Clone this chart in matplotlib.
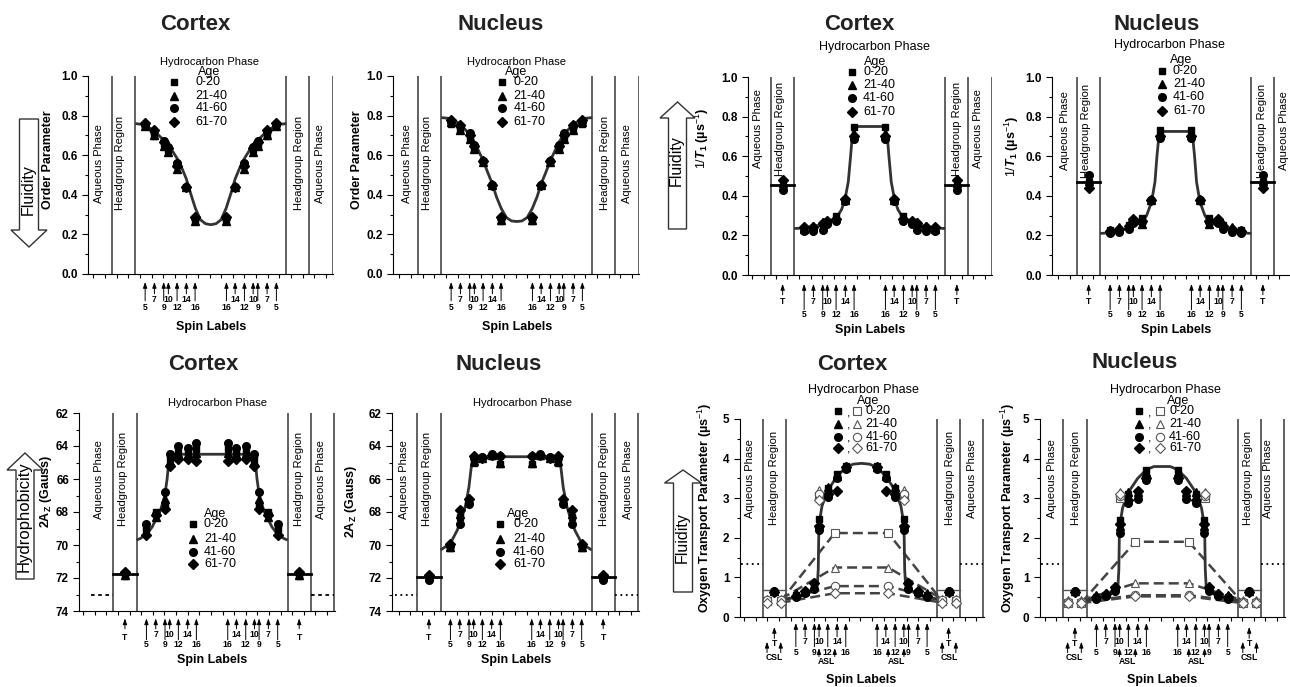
import numpy as np
import matplotlib
matplotlib.use('Agg')
import matplotlib.pyplot as plt
from matplotlib.patches import Polygon

plt.rcParams['font.family'] = ['Liberation Sans', 'DejaVu Sans']
plt.rcParams['mathtext.fontset'] = 'custom'
plt.rcParams['mathtext.rm'] = 'Liberation Sans'
plt.rcParams['mathtext.it'] = 'Liberation Sans:italic:bold'
plt.rcParams['mathtext.bf'] = 'Liberation Sans:bold'

# ---------------- data ----------------
ages = ['0-20', '21-40', '41-60', '61-70']
spin_names = ['5', '7', '9', '10', '12', '14', '16']
spin_x = np.array([4.85, 5.65, 6.45, 6.85, 7.6, 8.4, 9.15])  # left leaflet; right side mirrored about 10.5
high_labels = ['7', '10', '14']
tempo_x = 3.0
csl_x = [2.37, 3.55]
asl_x = [6.84, 8.2]

# order parameter, one row per age group, columns follow spin_names
order_cortex = [[0.745, 0.695, 0.655, 0.625, 0.555, 0.44, 0.275],
                [0.75, 0.70, 0.645, 0.615, 0.53, 0.44, 0.27],
                [0.755, 0.72, 0.67, 0.64, 0.56, 0.44, 0.285],
                [0.765, 0.725, 0.665, 0.635, 0.545, 0.44, 0.29]]
order_nucleus = [[0.76, 0.725, 0.685, 0.635, 0.57, 0.45, 0.27],
                 [0.77, 0.725, 0.68, 0.63, 0.565, 0.45, 0.275],
                 [0.77, 0.75, 0.71, 0.65, 0.57, 0.45, 0.285],
                 [0.78, 0.755, 0.70, 0.645, 0.57, 0.45, 0.29]]
order_fit_x = [4.0, 4.86, 5.67, 6.44, 6.87, 7.59, 8.02, 8.40, 8.75, 9.17, 9.61, 10.05, 10.5]
order_cortex_fit = [0.76, 0.753, 0.72, 0.677, 0.652, 0.585, 0.534, 0.48, 0.41, 0.333, 0.274, 0.254, 0.249]
order_nucleus_fit = [0.79, 0.785, 0.755, 0.705, 0.665, 0.575, 0.51, 0.455, 0.39, 0.33, 0.285, 0.268, 0.265]

# spin-lattice relaxation rate 1/T1
t1_cortex = [[0.235, 0.235, 0.26, 0.27, 0.30, 0.38, 0.745],
             [0.23, 0.25, 0.27, 0.275, 0.29, 0.38, 0.71],
             [0.22, 0.22, 0.225, 0.26, 0.275, 0.375, 0.685],
             [0.24, 0.24, 0.265, 0.275, 0.285, 0.385, 0.70]]
t1_cortex_tempo = [0.45, 0.465, 0.43, 0.48]
t1_cortex_head = 0.453
t1_cortex_fit_x = [4.0, 4.86, 5.64, 6.44, 6.93, 7.64, 8.07, 8.36, 8.65, 8.85, 8.99, 9.14, 9.37, 10.5]
t1_cortex_fit = [0.235, 0.237, 0.245, 0.255, 0.265, 0.29, 0.33, 0.38, 0.47, 0.6, 0.7, 0.74, 0.75, 0.75]
t1_nucleus = [[0.225, 0.225, 0.255, 0.27, 0.29, 0.38, 0.73],
              [0.225, 0.24, 0.26, 0.28, 0.26, 0.38, 0.71],
              [0.21, 0.215, 0.23, 0.265, 0.27, 0.38, 0.69],
              [0.22, 0.23, 0.25, 0.285, 0.275, 0.38, 0.70]]
t1_nucleus_tempo = [0.47, 0.475, 0.505, 0.44]
t1_nucleus_head = 0.47
t1_nucleus_fit_x = [4.0, 4.87, 5.62, 6.43, 6.83, 7.61, 7.99, 8.42, 8.71, 8.88, 9.03, 9.2, 9.43, 10.5]
t1_nucleus_fit = [0.21, 0.213, 0.222, 0.237, 0.245, 0.27, 0.3, 0.37, 0.47, 0.6, 0.69, 0.72, 0.725, 0.725]

# hydrophobicity 2Az
az_cortex = [[69.0, 68.0, 67.5, 64.8, 64.3, 64.45, 64.2],
             [69.2, 68.3, 67.2, 64.9, 64.4, 64.5, 64.4],
             [68.7, 68.1, 66.8, 64.5, 64.0, 64.1, 63.8],
             [69.4, 68.2, 67.8, 65.2, 64.8, 64.8, 64.9]]
az_cortex_tempo = [71.9, 71.8, 71.7, 71.65]
az_cortex_head = 71.75
az_cortex_fit_x = [4.0, 4.34, 4.92, 5.35, 5.63, 6.06, 6.43, 6.63, 6.78, 6.92, 7.21, 10.5]
az_cortex_fit = [69.7, 69.6, 69.3, 68.9, 68.5, 67.9, 67.0, 66.0, 64.9, 64.55, 64.5, 64.5]
az_nucleus = [[70.2, 68.3, 67.4, 65.0, 64.75, 64.6, 65.1],
              [70.1, 68.1, 67.3, 64.9, 64.7, 64.55, 65.0],
              [70.05, 68.7, 67.5, 64.7, 64.65, 64.5, 64.6],
              [69.95, 67.9, 67.2, 64.6, 64.7, 64.55, 64.6]]
az_nucleus_tempo = [72.0, 71.9, 72.1, 71.8]
az_nucleus_head = 71.95
az_nucleus_fit_x = [4.0, 4.43, 4.92, 5.44, 5.81, 6.15, 6.44, 6.64, 6.78, 7.02, 10.5]
az_nucleus_fit = [70.3, 70.1, 69.8, 69.1, 68.4, 67.6, 66.5, 65.3, 64.8, 64.65, 64.65]
az_water = 73.0

# oxygen transport parameter
ox_cortex = [[0.55, 0.62, 0.75, 2.48, 3.25, 3.6, 3.82],
             [0.6, 0.65, 0.8, 2.35, 3.28, 3.55, 3.78],
             [0.5, 0.6, 0.7, 2.2, 3.03, 3.5, 3.75],
             [0.52, 0.65, 0.85, 2.3, 3.1, 3.18, 3.8]]
ox_cortex_tempo = [0.64, 0.66, 0.65, 0.63]
ox_cortex_csl = [0.40, 0.45, 0.42, 0.36]
ox_cortex_asl1 = [3.05, 3.2, 3.1, 2.95]
ox_cortex_asl2 = [2.12, 1.25, 0.78, 0.6]
ox_fit_x = [4.0, 4.9, 5.65, 6.45, 6.7, 6.78, 6.82, 6.88, 7.1, 7.6, 8.4, 9.15, 9.8, 10.5]
ox_cortex_fit = [0.45, 0.5, 0.58, 0.7, 0.8, 1.2, 2.0, 2.4, 2.8, 3.2, 3.55, 3.78, 3.86, 3.88]
ox_nucleus = [[0.5, 0.55, 0.7, 2.45, 3.1, 3.15, 3.7],
              [0.55, 0.6, 0.78, 2.3, 3.15, 3.15, 3.65],
              [0.45, 0.52, 0.65, 2.12, 2.88, 2.97, 3.45],
              [0.5, 0.58, 0.75, 2.35, 2.95, 3.17, 3.5]]
ox_nucleus_tempo = [0.64, 0.66, 0.65, 0.63]
ox_nucleus_csl = [0.36, 0.42, 0.38, 0.35]
ox_nucleus_asl1 = [3.0, 3.15, 3.05, 3.1]
ox_nucleus_asl2 = [1.9, 0.85, 0.55, 0.52]
ox_nucleus_fit = [0.42, 0.47, 0.55, 0.68, 0.76, 1.2, 2.0, 2.35, 2.75, 3.15, 3.5, 3.72, 3.8, 3.8]
ox_head = 0.67
ox_water = 1.35

# ---------------- drawing ----------------
W, H = 1290, 687
U = 11.615  # pixels per x unit
markers = ['s', '^', 'o', 'D']
msize = {'s': 5, '^': 5.5, 'o': 5.5, 'D': 4.8}
fig = plt.figure(figsize=(W / 100, H / 100), dpi=100)


def new_axes(left, zero, top, bottom, right=None):
    if right is None:
        right = min(zero + 21 * U + 0.5, W)
    ax = fig.add_axes([left / W, 1 - bottom / H, (right - left) / W, (bottom - top) / H])
    x0, x1 = (left - zero) / U, (right - zero) / U
    ax.set_xlim(x0, x1)
    ax.spines['top'].set_visible(False)
    ax.spines['right'].set_visible(False)
    for xb in [2, 4, 17, 19, 21]:
        ax.axvline(xb, color='#555555', lw=1.3, zorder=1)
    ticks = np.arange(0.4 if x0 > -0.6 else -0.6, x1, 1.0)
    ax.set_xticks(ticks)
    ax.tick_params(axis='x', length=3, width=0.8, labelbottom=False)
    ax.tick_params(axis='y', which='major', length=4, width=0.8)
    ax.tick_params(axis='y', which='minor', length=2.5, width=0.8)
    ax.width_px = right - left
    return ax


def set_y(ax, lo, hi, step, minor, fmt, invert=False):
    ticks = np.arange(lo, hi + step / 2, step)
    ax.set_yticks(ticks, [fmt.format(t) for t in ticks], fontsize=8.5, fontweight='bold')
    ax.set_yticks(np.arange(lo, hi + minor / 2, minor), minor=True)
    ax.set_ylim((hi, lo) if invert else (lo, hi))


def ylabel(ax, text, off, yc):
    # off = distance in pixels from the axis to the centre of the label
    ax.set_ylabel(text, fontsize=9, fontweight='bold')
    ax.yaxis.set_label_coords(-(off - 6) / ax.width_px, yc)


def regions(ax, xs, y):
    names = ['Aqueous Phase', 'Headgroup Region', 'Headgroup Region', 'Aqueous Phase']
    for x, t in zip(xs, names):
        ax.text(x, y, t, transform=ax.get_xaxis_transform(), rotation=90,
                ha='center', va='center', fontsize=8)


def arrow(ax, x, y0, y1):
    tr = ax.get_xaxis_transform()
    ax.annotate('', xy=(x, y1), xytext=(x, y0), xycoords=tr, textcoords=tr,
                annotation_clip=False,
                arrowprops=dict(arrowstyle='-|>,head_length=0.35,head_width=0.12',
                                color='black', lw=0.7, shrinkA=0, shrinkB=0))


def label(ax, x, y, t, fs=6.2):
    ax.text(x, y, t, transform=ax.get_xaxis_transform(), ha='center', va='center',
            fontsize=fs, fontweight='bold')


def spin_arrows(ax, tip, hi_base, lo_base, hi_lab, lo_lab, xlab):
    for x, name in zip(spin_x, spin_names):
        hi = name in high_labels
        for xx in (x, 21 - x):
            arrow(ax, xx, hi_base if hi else lo_base, tip)
            label(ax, xx, hi_lab if hi else lo_lab, name)
    ax.text(10.5, xlab, 'Spin Labels', transform=ax.get_xaxis_transform(),
            ha='center', va='center', fontsize=9, fontweight='bold')


def tempo_arrows(ax, tip, base, lab):
    for xx in (tempo_x, 21 - tempo_x):
        arrow(ax, xx, base, tip)
        label(ax, xx, lab, 'T')


def plot_points(ax, pts):
    xs = np.concatenate([spin_x, 21 - spin_x])
    for m, vals in zip(markers, pts):
        ax.plot(xs, vals + vals, ls='none', marker=m, color='black',
                ms=msize[m], zorder=4, clip_on=False)


def plot_fit(ax, fx, fy):
    fx = np.array(fx)
    fy = np.array(fy)
    ax.plot(np.concatenate([fx, 21 - fx[::-1]]), np.concatenate([fy, fy[::-1]]),
            color='#333333', lw=2, zorder=3, solid_capstyle='butt')


def plot_tempo(ax, vals, head, lw=2, color='black'):
    for xs in ([2, 4], [17, 19]):
        ax.plot(xs, [head, head], color=color, lw=lw, zorder=2)
    for m, v in zip(markers, vals):
        ax.plot([tempo_x, 21 - tempo_x], [v, v], ls='none', marker=m, color='black',
                ms=msize[m], zorder=4)


def legend(ax, mx, tx, ys, age_xy, hp_xy, hp_fs=8.5, fs=9, open_x=None, comma_x=None):
    tr = ax.get_xaxis_transform()
    ax.text(hp_xy[0], hp_xy[1], 'Hydrocarbon Phase', transform=tr, ha='center',
            va='center', fontsize=hp_fs)
    ax.text(age_xy[0], age_xy[1], 'Age', transform=tr, ha='center', va='center', fontsize=fs)
    for m, y, a in zip(markers, ys, ages):
        ax.plot([mx], [y], marker=m, color='black', ms=msize[m], transform=tr, clip_on=False)
        if open_x is not None:
            ax.text(comma_x, y - 0.01, ',', transform=tr, ha='center', va='center', fontsize=fs)
            ax.plot([open_x], [y], marker=m, mfc='white', mec='#555555', mew=0.8,
                    ms=msize[m] + 0.5, transform=tr, clip_on=False)
        ax.text(tx, y, a, transform=tr, ha='left', va='center', fontsize=fs)


def title(cx, cy, t):
    fig.text(cx / W, 1 - cy / H, t, ha='center', va='center', fontsize=16, fontweight='bold',
             color='#222222')


def big_arrow(cx, tip_y, head_y, end_y, hh, bh, text, ty, fs):
    pts = [(cx - bh, end_y), (cx + bh, end_y), (cx + bh, head_y), (cx + hh, head_y),
           (cx, tip_y), (cx - hh, head_y), (cx - bh, head_y)]
    fig.add_artist(Polygon([(x / W, 1 - y / H) for x, y in pts], closed=True,
                           transform=fig.transFigure, facecolor='white', edgecolor='#333333', lw=1))
    fig.text((cx - 1) / W, 1 - ty / H, text, rotation=90, ha='center', va='center', fontsize=fs)


def water_line(ax, y, style):
    x0 = max(ax.get_xlim()[0], 0.0)
    ax.plot([x0 + 0.1, 2], [y, y], color='black', lw=1.3, ls=style, zorder=2)
    ax.plot([19, 21], [y, y], color='black', lw=1.3, ls=style, zorder=2, clip_on=False)


def oxygen_open(ax, csl, asl1, asl2):
    for m, c, a1, a2 in zip(markers, csl, asl1, asl2):
        ax.plot([csl_x[1], asl_x[1], 21 - asl_x[1], 21 - csl_x[1]], [c, a2, a2, c],
                color='#444444', lw=1.8, dashes=(4, 2), zorder=2)
        xs = csl_x + [21 - v for v in csl_x]
        ax.plot(xs, [c] * 4, ls='none', marker=m, mfc='white', mec='#555555', mew=0.8,
                ms=msize[m] + 0.5, zorder=5)
        ax.plot([asl_x[0], 21 - asl_x[0]], [a1, a1], ls='none', marker=m, mfc='white',
                mec='#555555', mew=0.8, ms=msize[m] + 0.5, zorder=5)
        ax.plot([asl_x[1], 21 - asl_x[1]], [a2, a2], ls='none', marker=m, mfc='white',
                mec='#555555', mew=0.8, ms=msize[m] + 0.5, zorder=5)


def oxygen_arrows(ax):
    tempo_arrows(ax, -0.05, -0.108, -0.136)
    for xx in csl_x + [21 - v for v in csl_x]:
        arrow(ax, xx, -0.18, -0.125)
    for cx in ((csl_x[0] + csl_x[1]) / 2, 21 - (csl_x[0] + csl_x[1]) / 2):
        label(ax, cx, -0.207, 'CSL')
    for xx in asl_x + [21 - v for v in asl_x]:
        arrow(ax, xx, -0.2, -0.157)
    for cx in ((asl_x[0] + asl_x[1]) / 2, 21 - (asl_x[0] + asl_x[1]) / 2):
        label(ax, cx, -0.227, 'ASL')


# ---- panel 1: order parameter, cortex ----
ax = new_axes(88, 88.8, 76, 274)
set_y(ax, 0, 1.0, 0.2, 0.1, '{:.1f}')
ylabel(ax, 'Order Parameter', 40, 0.576)
regions(ax, [0.9, 2.7, 18.1, 19.9], 0.56)
plot_fit(ax, order_fit_x, order_cortex_fit)
plot_points(ax, order_cortex)
legend(ax, 7.3, 9.2, [0.97, 0.899, 0.838, 0.768], (10.36, 1.02), (10.35, 1.07), hp_fs=8)
spin_arrows(ax, -0.04, -0.1, -0.135, -0.127, -0.17, -0.27)
title(195, 24, 'Cortex')
big_arrow(29, 247, 230, 119, 18, 9.5, 'Fluidity', 190, 11.5)

# ---- panel 2: order parameter, nucleus ----
ax = new_axes(393, 394.8, 76, 274)
set_y(ax, 0, 1.0, 0.2, 0.1, '{:.1f}')
ylabel(ax, 'Order Parameter', 36, 0.576)
regions(ax, [1.02, 2.8, 18.1, 20.0], 0.56)
plot_fit(ax, order_fit_x, order_nucleus_fit)
plot_points(ax, order_nucleus)
legend(ax, 9.2, 10.2, [0.97, 0.899, 0.838, 0.768], (10.45, 1.02), (10.5, 1.07), hp_fs=8)
spin_arrows(ax, -0.04, -0.1, -0.135, -0.127, -0.17, -0.27)
title(501, 24, 'Nucleus')

# ---- panel 3: 1/T1, cortex ----
t1_label = r'$\mathit{1/T}_\mathbf{1}$ (µs$^{-1}$)'
ax = new_axes(748, 747.8, 77, 275)
set_y(ax, 0, 1.0, 0.2, 0.1, '{:.1f}')
ylabel(ax, t1_label, 43, 0.69)
regions(ax, [0.9, 2.77, 17.98, 19.85], 0.74)
plot_tempo(ax, t1_cortex_tempo, t1_cortex_head)
plot_fit(ax, t1_cortex_fit_x, t1_cortex_fit)
plot_points(ax, t1_cortex)
legend(ax, 8.95, 9.92, [1.025, 0.96, 0.894, 0.823], (10.94, 1.076), (10.86, 1.15), hp_fs=9)
spin_arrows(ax, -0.045, -0.11, -0.175, -0.135, -0.197, -0.278)
tempo_arrows(ax, -0.045, -0.1, -0.135)
title(859, 24, 'Cortex')
big_arrow(677.5, 102, 118, 229, 17.5, 9, 'Fluidity', 161, 11.5)

# ---- panel 4: 1/T1, nucleus ----
ax = new_axes(1052, 1053.8, 77, 275, right=1290)
set_y(ax, 0, 1.0, 0.2, 0.1, '{:.1f}')
ylabel(ax, t1_label, 37, 0.65)
regions(ax, [0.97, 2.8, 17.9, 19.8], 0.73)
plot_tempo(ax, t1_nucleus_tempo, t1_nucleus_head)
plot_fit(ax, t1_nucleus_fit_x, t1_nucleus_fit)
plot_points(ax, t1_nucleus)
legend(ax, 9.32, 10.26, [1.03, 0.965, 0.899, 0.828], (11.0, 1.086), (9.92, 1.16), hp_fs=9)
spin_arrows(ax, -0.045, -0.11, -0.175, -0.135, -0.197, -0.278)
tempo_arrows(ax, -0.045, -0.1, -0.135)
title(1157, 24, 'Nucleus')

# ---- panel 5: 2Az, cortex ----
az_label = r'$\mathbf{2A}_\mathbf{Z}$ (Gauss)'
ax = new_axes(79.3, 90.1, 413, 611)
set_y(ax, 62, 74, 2, 1, '{:.0f}', invert=True)
ylabel(ax, az_label, 31, 0.606)
regions(ax, [0.8, 2.86, 18.0, 19.9], 0.665)
water_line(ax, az_water, (0, (2, 2)))
plot_tempo(ax, az_cortex_tempo, az_cortex_head)
plot_fit(ax, az_cortex_fit_x, az_cortex_fit)
plot_points(ax, az_cortex)
legend(ax, 8.86, 9.8, [0.44, 0.364, 0.298, 0.237], (10.75, 0.49), (11.0, 1.05), hp_fs=8)
spin_arrows(ax, -0.037, -0.09, -0.145, -0.121, -0.167, -0.25)
tempo_arrows(ax, -0.037, -0.09, -0.135)
title(203, 365, 'Cortex')
big_arrow(25, 453, 470, 579, 18, 9, 'Hydrophobicity', 517, 12)

# ---- panel 6: 2Az, nucleus ----
ax = new_axes(391.7, 394.1, 413, 611)
set_y(ax, 62, 74, 2, 1, '{:.0f}', invert=True)
ylabel(ax, az_label, 39, 0.556)
regions(ax, [0.85, 2.84, 18.1, 20.1], 0.665)
water_line(ax, az_water, (0, (1, 2)))
plot_tempo(ax, az_nucleus_tempo, az_nucleus_head)
plot_fit(ax, az_nucleus_fit_x, az_nucleus_fit)
plot_points(ax, az_nucleus)
legend(ax, 9.12, 10.24, [0.44, 0.364, 0.298, 0.237], (10.67, 0.49), (11.07, 1.05), hp_fs=8)
spin_arrows(ax, -0.037, -0.09, -0.145, -0.121, -0.167, -0.25)
tempo_arrows(ax, -0.037, -0.09, -0.135)
title(499, 365, 'Nucleus')

# ---- panel 7: oxygen transport, cortex ----
ox_label = r'$\mathbf{Oxygen\ Transport\ Parameter}$ (µs$^{-1}$)'
ax = new_axes(740, 739.5, 419, 617)
set_y(ax, 0, 5, 1, 0.5, '{:.0f}')
ylabel(ax, ox_label, 32, 0.55)
regions(ax, [0.9, 2.97, 18.1, 20.0], 0.7)
water_line(ax, ox_water, (0, (1, 2)))
plot_tempo(ax, ox_cortex_tempo, ox_head, lw=1, color='#555555')
oxygen_open(ax, ox_cortex_csl, ox_cortex_asl1, ox_cortex_asl2)
plot_fit(ax, ox_fit_x, ox_cortex_fit)
plot_points(ax, ox_cortex)
legend(ax, 8.48, 10.85, [1.04, 0.975, 0.909, 0.854], (11.06, 1.09), (10.66, 1.146),
       hp_fs=9, open_x=10.1, comma_x=9.43)
spin_arrows(ax, -0.03, -0.1, -0.15, -0.126, -0.18, -0.318)
oxygen_arrows(ax)
title(852.5, 365, 'Cortex')
big_arrow(683, 470, 483, 592, 18.5, 9.5, 'Fluidity', 538, 11.5)

# ---- panel 8: oxygen transport, nucleus ----
ax = new_axes(1040, 1040.1, 419, 617)
set_y(ax, 0, 5, 1, 0.5, '{:.0f}')
ylabel(ax, ox_label, 29, 0.55)
regions(ax, [0.99, 3.1, 17.9, 19.6], 0.7)
water_line(ax, ox_water, (0, (1, 2)))
plot_tempo(ax, ox_nucleus_tempo, ox_head, lw=1, color='#555555')
oxygen_open(ax, ox_nucleus_csl, ox_nucleus_asl1, ox_nucleus_asl2)
plot_fit(ax, ox_fit_x, ox_nucleus_fit)
plot_points(ax, ox_nucleus)
legend(ax, 8.54, 11.1, [1.04, 0.975, 0.909, 0.854], (11.85, 1.09), (10.75, 1.146),
       hp_fs=9, open_x=10.32, comma_x=9.46)
spin_arrows(ax, -0.03, -0.1, -0.15, -0.126, -0.18, -0.318)
oxygen_arrows(ax)
title(1135, 363, 'Nucleus')

fig.savefig('out.png', dpi=100, facecolor='white')
